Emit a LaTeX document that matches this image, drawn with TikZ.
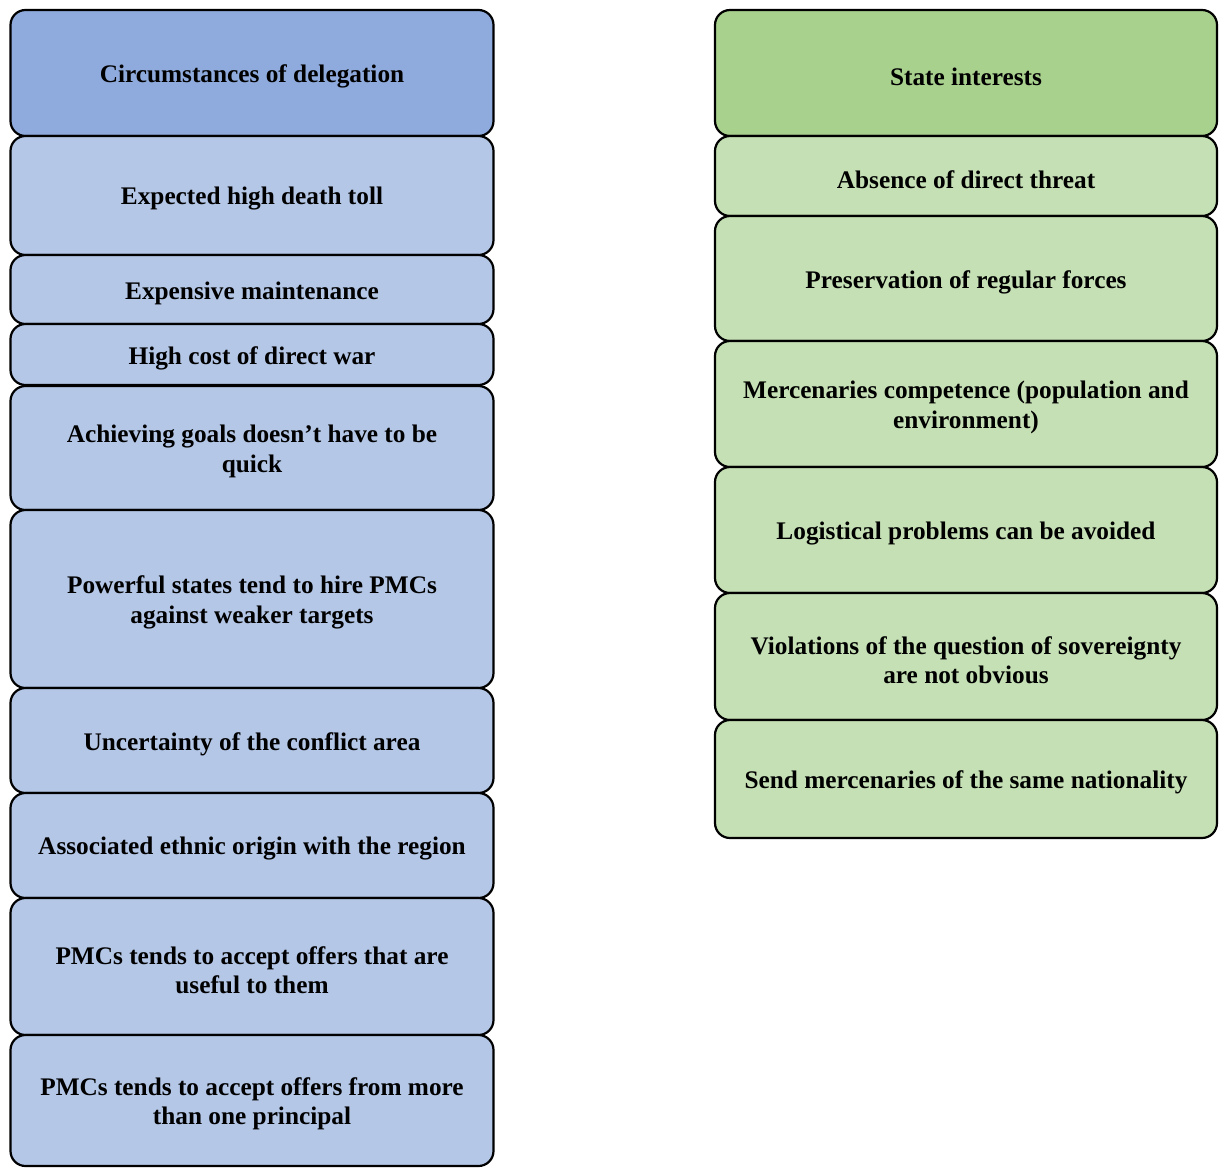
\documentclass[tikz,border=0pt]{standalone}
\usepackage{fontspec}
\setmainfont{Liberation Serif}
\definecolor{bhead}{HTML}{8FAADC}
\definecolor{bbox}{HTML}{B4C7E7}
\definecolor{ghead}{HTML}{A9D18E}
\definecolor{gbox}{HTML}{C5E0B4}
\tikzset{
  cell/.style={draw=black, line width=2.2pt, rounded corners=15pt,
    inner sep=0pt, outer sep=0pt},
  lcell/.style={cell, fill=bbox, minimum width=483pt},
  lhead/.style={lcell, fill=bhead},
  rcell/.style={cell, fill=gbox, minimum width=502pt},
  rhead/.style={rcell, fill=ghead},
  celltext/.style={align=center, inner sep=0pt,
    font=\fontsize{25.3}{29.5}\selectfont\bfseries},
}
\newcommand{\cellnode}[6]{%
  \node[#2, minimum height=#5pt] (#1) at (#3,#4) {};
  \node[celltext] (#1t) at ([yshift=-3.5pt]#1.center) {#6};
}
\begin{document}
\begin{tikzpicture}[x=1pt,y=-1pt]
\useasboundingbox (0,0) rectangle (1219,1168);
% left column (x 10..494)
\cellnode{l1}{lhead}{252}{73}{126}{Circumstances of delegation}
\cellnode{l2}{lcell}{252}{195.5}{119}{Expected high death toll}
\cellnode{l3}{lcell}{252}{289.5}{69}{Expensive maintenance}
\cellnode{l4}{lcell}{252}{354.5}{61}{High cost of direct war}
\cellnode{l5}{lcell}{252}{448}{124}{Achieving goals doesn’t have to be\\quick}
\cellnode{l6}{lcell}{252}{599}{178}{Powerful states tend to hire PMCs\\against weaker targets}
\cellnode{l7}{lcell}{252}{740.5}{105}{Uncertainty of the conflict area}
\cellnode{l8}{lcell}{252}{845.5}{105}{Associated ethnic origin with the region}
\cellnode{l9}{lcell}{252}{966.5}{137}{PMCs tends to accept offers that are\\useful to them}
\cellnode{l10}{lcell}{252}{1100.5}{131}{PMCs tends to accept offers from more\\than one principal}
% right column (x 714..1217)
\cellnode{r1}{rhead}{966}{73}{126}{State interests}
\cellnode{r2}{rcell}{966}{176}{80}{Absence of direct threat}
\cellnode{r3}{rcell}{966}{278.5}{125}{Preservation of regular forces}
\cellnode{r4}{rcell}{966}{404}{126}{Mercenaries competence (population and\\environment)}
\cellnode{r5}{rcell}{966}{530}{126}{Logistical problems can be avoided}
\cellnode{r6}{rcell}{966}{656.5}{127}{Violations of the question of sovereignty\\are not obvious}
\cellnode{r7}{rcell}{966}{779}{118}{Send mercenaries of the same nationality}
\end{tikzpicture}
\end{document}
